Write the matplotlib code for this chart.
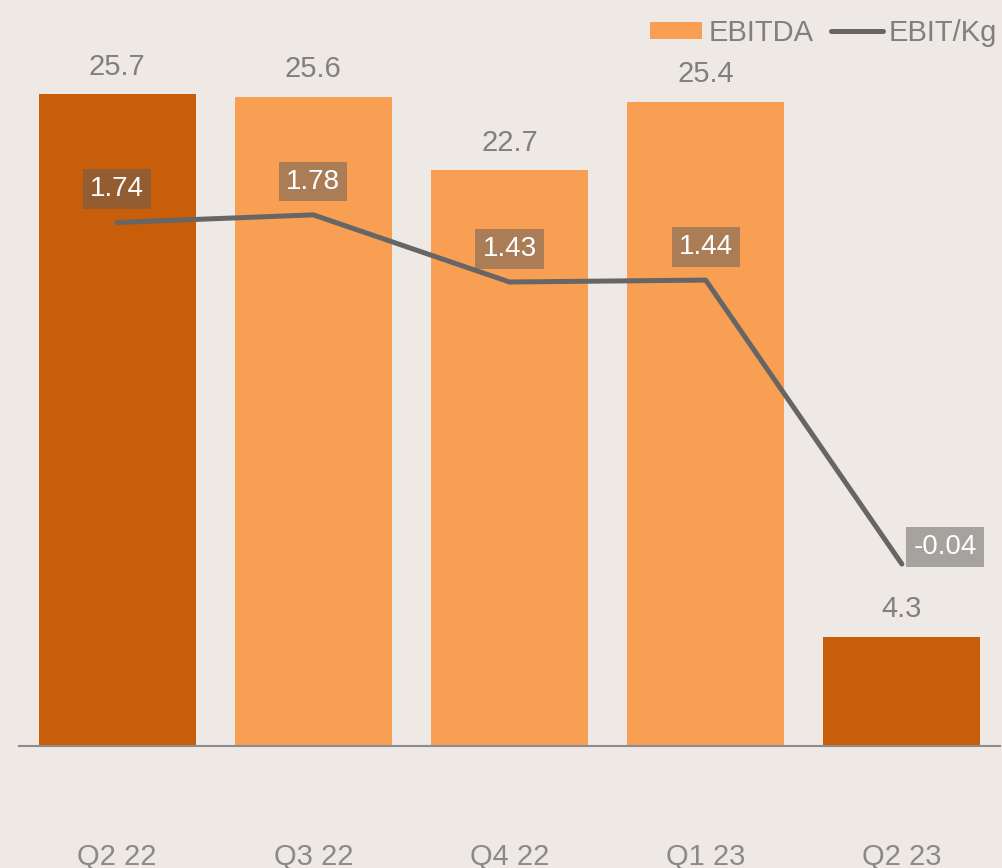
import matplotlib.pyplot as plt
from matplotlib.patches import Patch
from matplotlib.lines import Line2D

# Data
quarters = ['Q2 22', 'Q3 22', 'Q4 22', 'Q1 23', 'Q2 23']
ebitda = [25.7, 25.6, 22.7, 25.4, 4.3]
ebit_kg = [1.74, 1.78, 1.43, 1.44, -0.04]
ebit_labels = ['1.74', '1.78', '1.43', '1.44', '-0.04']

dark = '#C85E0A'
light = '#F89F54'
bar_colors = [dark, light, light, light, dark]
bg = '#EEE9E5'
grey_txt = '#808080'
line_col = '#666666'

plt.rcParams['font.family'] = ['Liberation Sans', 'DejaVu Sans']

fig = plt.figure(figsize=(10.03, 8.68), dpi=100, facecolor=bg)
ax = fig.add_axes([19 / 1003, 122 / 868, 981 / 1003, 710 / 868])
ax.set_facecolor(bg)

x = list(range(len(quarters)))
bars = ax.bar(x, ebitda, width=0.8, color=bar_colors, zorder=2)
ax.set_xlim(-0.5, 4.5)
ax.set_ylim(0, 28)

for xi, v in zip(x, ebitda):
    ax.annotate(f'{v:.1f}', (xi, v), xytext=(0, 20), textcoords='offset points',
                ha='center', va='center', fontsize=21, color=grey_txt)

for s in ['top', 'right', 'left']:
    ax.spines[s].set_visible(False)
ax.spines['bottom'].set_color('#8c8c8c')
ax.spines['bottom'].set_linewidth(1.5)
ax.set_yticks([])
ax.set_xticks(x)
ax.set_xticklabels(quarters, fontsize=21, color='#8a8a8a')
ax.tick_params(axis='x', length=0, pad=70)

# Secondary axis for EBIT/Kg line
ax2 = ax.twinx()
ax2.set_ylim(-0.988, 2.712)
ax2.axis('off')
ax2.plot(x, ebit_kg, color=line_col, linewidth=3.6, solid_capstyle='round',
         solid_joinstyle='round', zorder=3)

box = dict(boxstyle='square,pad=0.25', facecolor='#605D59', alpha=0.5, edgecolor='none')
for i, (v, lab) in enumerate(zip(ebit_kg, ebit_labels)):
    if i == len(x) - 1:
        off = (31, 12)
    else:
        off = (0, 24)
    ax2.annotate(lab, (x[i], v), xytext=off, textcoords='offset points',
                 ha='center', va='center', fontsize=20, color='white', bbox=box)

handles = [Patch(facecolor=light, edgecolor='none'),
           Line2D([0], [0], color=line_col, linewidth=3.6, solid_capstyle='round')]
leg = fig.legend(handles, ['EBITDA', 'EBIT/Kg'], loc='upper right',
                 bbox_to_anchor=(1.006, 0.992), ncol=2, frameon=False, fontsize=21,
                 handlelength=1.8, handleheight=0.55, handletextpad=0.2,
                 columnspacing=0.6, borderaxespad=0.2, borderpad=0.2)
for t in leg.get_texts():
    t.set_color(grey_txt)

fig.savefig('out.png', dpi=100, facecolor=bg)
